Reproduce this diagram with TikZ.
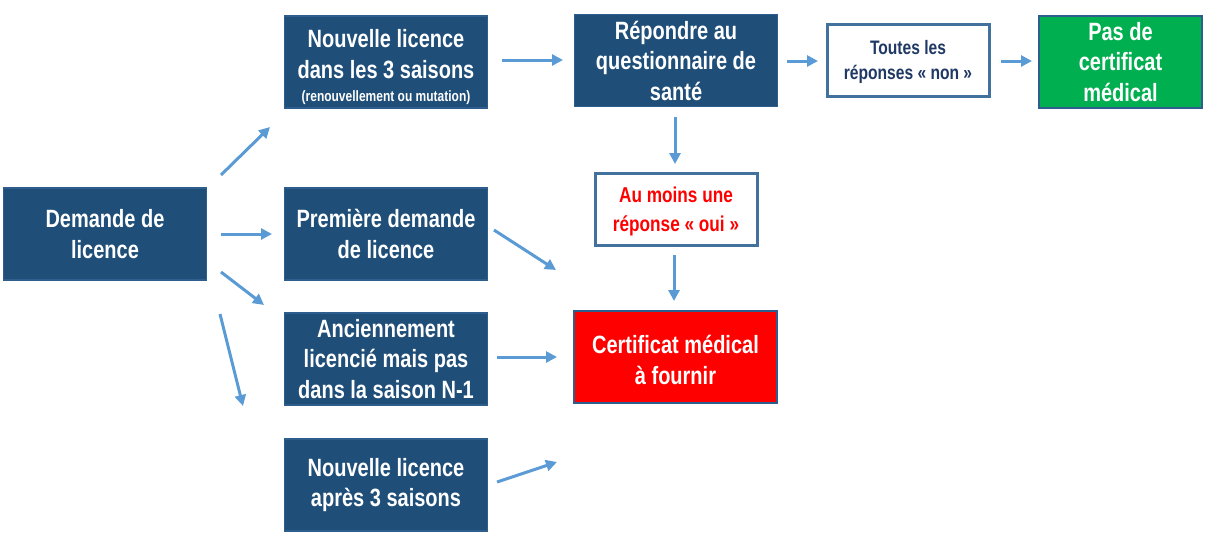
\documentclass[tikz,border=0pt]{standalone}
\usepackage{fontspec}
\setmainfont{Liberation Sans}[FakeStretch=0.8]
\usetikzlibrary{arrows.meta}
\definecolor{dblue}{HTML}{1F4E79}
\definecolor{bline}{HTML}{2E5E8E}
\definecolor{arr}{HTML}{5B9BD5}
\definecolor{wline}{HTML}{41719C}
\definecolor{gr}{HTML}{00B050}
\definecolor{txtblue}{HTML}{1F3864}
\begin{document}
\begin{tikzpicture}[x=1pt,y=-1pt,
  box/.style={draw=bline,line width=1.2pt,fill=dblue,text=white,align=center,
    minimum width=203pt,minimum height=92pt,inner sep=0pt,
    font=\bfseries\fontsize{25}{30.5}\selectfont},
  boxtext/.style={text=white,align=center,inner sep=0pt,
    font=\bfseries\fontsize{25}{30.5}\selectfont},
  wbox/.style={draw=wline,line width=3pt,fill=white,align=center,
    minimum width=162pt,minimum height=72pt,inner sep=0pt},
  arrw/.style={draw=arr,line width=3pt,-{Triangle[length=11pt,width=11pt]}}]
\useasboundingbox (0,0) rectangle (1211,544);
\node[box] (dem) at (105,234) {Demande de\\licence};
\node[box] (nl3) at (386,62) {};
\node[boxtext] (nl3t) at (386,67) {Nouvelle licence\\dans les 3 saisons\\[-7pt]{\fontsize{15}{16}\selectfont(renouvellement ou mutation)}};
\node[box] (prem) at (386,234) {Première demande\\de licence};
\node[box] (anc) at (386,359) {Anciennement\\licencié mais pas\\dans la saison N-1};
\node[box] (nap) at (386,485) {Nouvelle licence\\après 3 saisons};
\node[box] (rep) at (676,60.5) {Répondre au\\questionnaire de\\santé};
\node[wbox,minimum width=162pt,text=txtblue,font=\bfseries\fontsize{19.5}{24.5}\selectfont] (tout) at (908,60) {};
\node[text=txtblue,align=center,inner sep=0pt,font=\bfseries\fontsize{19.5}{24.5}\selectfont] (toutt) at (908,62) {Toutes les\\réponses « non »};
\node[box,fill=gr,minimum width=163pt] (pas) at (1120.5,62) {Pas de\\certificat\\médical};
\node[wbox] (aum) at (676,209) {};
\node[text=red,align=center,inner sep=0pt,font=\bfseries\fontsize{21.5}{29}\selectfont] (aumt) at (676,211) {Au moins une\\réponse « oui »};
\node[box,fill=red] (cert) at (675.5,357) {};
\node[boxtext] (certt) at (675.5,360) {Certificat médical\\à fournir};
% arrow end points
\coordinate (a1s) at (221,175); \coordinate (a1e) at (270,127);
\coordinate (a2s) at (221,234); \coordinate (a2e) at (272,234);
\coordinate (a3s) at (221,272); \coordinate (a3e) at (264,305);
\coordinate (a4s) at (220,314); \coordinate (a4e) at (243,406);
\coordinate (b1s) at (502,60); \coordinate (b1e) at (563,60);
\coordinate (b2s) at (494,230); \coordinate (b2e) at (556,270);
\coordinate (b3s) at (497,357); \coordinate (b3e) at (557,357);
\coordinate (b4s) at (497,482); \coordinate (b4e) at (557,462);
\coordinate (c1s) at (675,117); \coordinate (c1e) at (675,164);
\coordinate (c2s) at (674,255); \coordinate (c2e) at (674,301);
\coordinate (d1s) at (787,61); \coordinate (d1e) at (818,61);
\coordinate (d2s) at (1001,61); \coordinate (d2e) at (1032,61);
\foreach \p in {a1,a2,a3,a4,b1,b2,b3,b4,c1,c2,d1,d2}
  \draw[arrw] (\p s) -- (\p e);
\end{tikzpicture}
\end{document}
